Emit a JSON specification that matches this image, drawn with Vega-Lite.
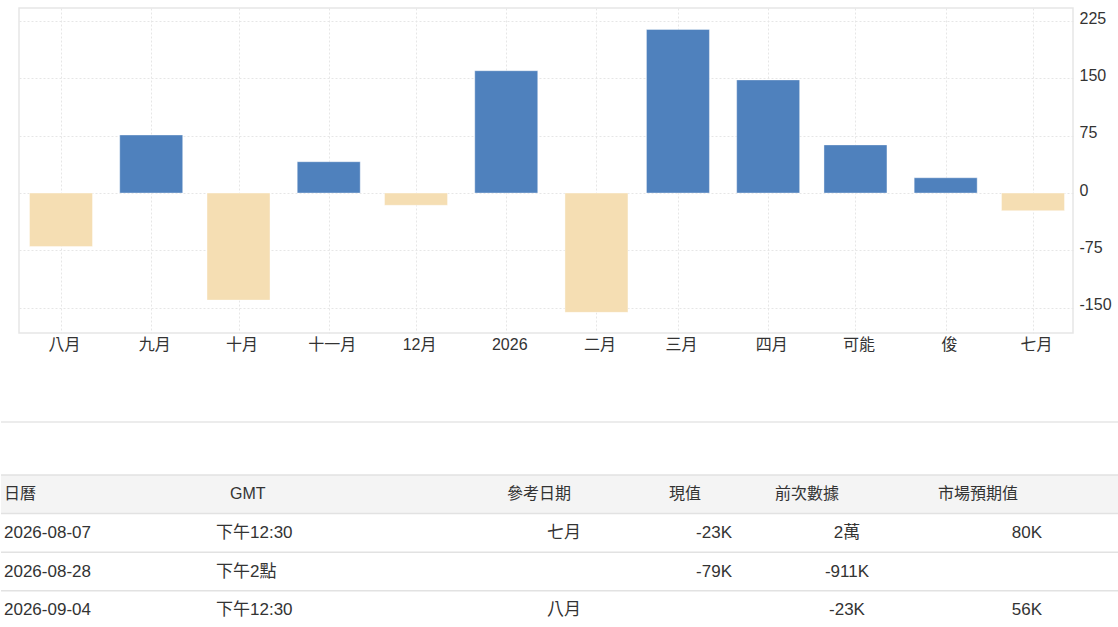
{
  "$schema": "https://vega.github.io/schema/vega-lite/v6.json",
  "background": "white",
  "padding": {"left": 0, "top": 7, "right": 0, "bottom": 0},
  "bounds": "flush",
  "spacing": 414,
  "config": {
    "font": "Liberation Sans, Arial, Noto Sans CJK TC, sans-serif",
    "view": {"stroke": null}
  },
  "datasets": {
    "bars": [
      {"d": "2025-08-01", "v": -70},
      {"d": "2025-09-01", "v": 76},
      {"d": "2025-10-01", "v": -140},
      {"d": "2025-11-01", "v": 41},
      {"d": "2025-12-01", "v": -16},
      {"d": "2026-01-01", "v": 160},
      {"d": "2026-02-01", "v": -156},
      {"d": "2026-03-01", "v": 214},
      {"d": "2026-04-01", "v": 148},
      {"d": "2026-05-01", "v": 63},
      {"d": "2026-06-01", "v": 20},
      {"d": "2026-07-01", "v": -23}
    ],
    "rows": [
      {"row": "h"}, {"row": "r1"}, {"row": "r2"}, {"row": "r3"}
    ],
    "table": [
      {"row": "h", "c": 0, "t": "日曆"},
      {"row": "h", "c": 1, "t": "GMT"},
      {"row": "h", "c": 2, "t": "參考日期"},
      {"row": "h", "c": 3, "t": "現值"},
      {"row": "h", "c": 4, "t": "前次數據"},
      {"row": "h", "c": 5, "t": "市場預期值"},
      {"row": "r1", "c": 0, "t": "2026-08-07"},
      {"row": "r1", "c": 1, "t": "下午12:30"},
      {"row": "r1", "c": 2, "t": "七月"},
      {"row": "r1", "c": 3, "t": "-23K"},
      {"row": "r1", "c": 4, "t": "2萬"},
      {"row": "r1", "c": 5, "t": "80K"},
      {"row": "r2", "c": 0, "t": "2026-08-28"},
      {"row": "r2", "c": 1, "t": "下午2點"},
      {"row": "r2", "c": 2, "t": ""},
      {"row": "r2", "c": 3, "t": "-79K"},
      {"row": "r2", "c": 4, "t": "-911K"},
      {"row": "r2", "c": 5, "t": ""},
      {"row": "r3", "c": 0, "t": "2026-09-04"},
      {"row": "r3", "c": 1, "t": "下午12:30"},
      {"row": "r3", "c": 2, "t": "八月"},
      {"row": "r3", "c": 3, "t": ""},
      {"row": "r3", "c": 4, "t": "-23K"},
      {"row": "r3", "c": 5, "t": "56K"}
    ]
  },
  "vconcat": [
    {
      "hconcat": [
        {
          "width": 18,
          "height": 325,
          "data": {"values": []},
          "mark": "point"
        },
        {
          "width": 1054,
          "height": 325,
          "view": {"stroke": "#e6e6e6", "strokeWidth": 1.5},
          "data": {"name": "bars"},
          "mark": {"type": "bar", "width": 63, "stroke": "white", "strokeWidth": 1, "strokeOpacity": 0.4},
          "encoding": {
            "x": {
              "field": "d",
              "type": "temporal",
              "scale": {
                "type": "utc",
                "padding": 0,
                "domain": [
                  {"year": 2025, "month": 7, "date": 17, "hours": 13, "minutes": 40, "utc": true},
                  {"year": 2026, "month": 7, "date": 14, "hours": 18, "utc": true}
                ]
              },
              "axis": {
                "title": null,
                "tickCount": {"interval": "month", "step": 1},
                "labelExpr": "utcmonth(datum.value) == 0 ? utcFormat(datum.value, '%Y') : ['', '二月', '三月', '四月', '可能', '俊', '七月', '八月', '九月', '十月', '十一月', '12月'][utcmonth(datum.value)]",
                "grid": true,
                "gridColor": "#e6e6e6",
                "gridDash": [2, 2],
                "ticks": false,
                "domain": false,
                "labelFontSize": 16,
                "labelColor": "#333333",
                "labelPadding": 3,
                "labelOffset": 3,
                "labelFlush": false,
                "labelOverlap": false
              }
            },
            "y": {
              "field": "v",
              "type": "quantitative",
              "scale": {"domain": [-183, 242], "nice": false},
              "axis": {
                "title": null,
                "orient": "right",
                "values": [-150, -75, 0, 75, 150, 225],
                "labelExpr": "replace(datum.label, '−', '-')",
                "grid": true,
                "gridColor": "#e6e6e6",
                "gridDash": [2, 2],
                "ticks": false,
                "domain": false,
                "labelFontSize": 16,
                "labelColor": "#333333",
                "labelPadding": 6,
                "labelOffset": -3
              }
            },
            "color": {
              "condition": {"test": "datum.v >= 0", "value": "#4f81bd"},
              "value": "#f5deb3"
            }
          }
        }
      ],
      "spacing": 0,
      "bounds": "flush"
    },
    {
      "width": 1118,
      "height": 206,
      "resolve": {"scale": {"x": "independent"}},
      "encoding": {
        "y": {
          "field": "row",
          "type": "nominal",
          "scale": {"domain": ["h", "r1", "r2", "r3"], "range": [53, 207.4], "paddingInner": 0, "paddingOuter": 0},
          "axis": null
        }
      },
      "layer": [
        {
          "data": {"name": "rows"},
          "transform": [{"filter": "datum.row == 'h'"}],
          "mark": {"type": "rect", "color": "#f4f4f4"}
        },
        {
          "data": {"name": "rows"},
          "mark": {"type": "rule", "color": "#e2e2e2", "strokeWidth": 1.5},
          "encoding": {
            "y": {"field": "row", "type": "nominal", "bandPosition": 0}
          }
        },
        {
          "data": {"name": "rows"},
          "transform": [{"filter": "datum.row == 'h'"}],
          "mark": {"type": "rule", "color": "#e6e6e6", "strokeWidth": 1.5},
          "encoding": {
            "y": {"value": 0}
          }
        },
        {
          "data": {"name": "table"},
          "transform": [{"filter": "datum.row == 'h'"}],
          "mark": {"type": "text", "align": "left", "baseline": "middle", "fontSize": 16, "color": "#333333"},
          "encoding": {
            "x": {"field": "c", "type": "quantitative", "axis": null,
                  "scale": {"domain": [0, 1, 2, 3, 4, 5], "range": [3, 229, 506, 668, 774, 937], "nice": false, "zero": false}},
            "text": {"field": "t"}
          }
        },
        {
          "data": {"name": "table"},
          "transform": [{"filter": "datum.row != 'h' && datum.c <= 1"}],
          "mark": {"type": "text", "align": "left", "baseline": "middle", "fontSize": 17, "color": "#333333"},
          "encoding": {
            "x": {"field": "c", "type": "quantitative", "axis": null,
                  "scale": {"domain": [0, 1], "range": [3, 215], "nice": false, "zero": false}},
            "text": {"field": "t"}
          }
        },
        {
          "data": {"name": "table"},
          "transform": [{"filter": "datum.row != 'h' && (datum.c == 2 || datum.c == 3 || datum.c == 5)"}],
          "mark": {"type": "text", "align": "right", "baseline": "middle", "fontSize": 17, "color": "#333333"},
          "encoding": {
            "x": {"field": "c", "type": "quantitative", "axis": null,
                  "scale": {"domain": [2, 3, 5], "range": [580, 731, 1041], "nice": false, "zero": false}},
            "text": {"field": "t"}
          }
        },
        {
          "data": {"name": "table"},
          "transform": [{"filter": "datum.row != 'h' && datum.c == 4"}],
          "mark": {"type": "text", "align": "center", "baseline": "middle", "fontSize": 17, "color": "#333333"},
          "encoding": {
            "x": {"field": "c", "type": "quantitative", "axis": null,
                  "scale": {"domain": [4, 5], "range": [846, 1026], "nice": false, "zero": false}},
            "text": {"field": "t"}
          }
        }
      ]
    }
  ]
}
